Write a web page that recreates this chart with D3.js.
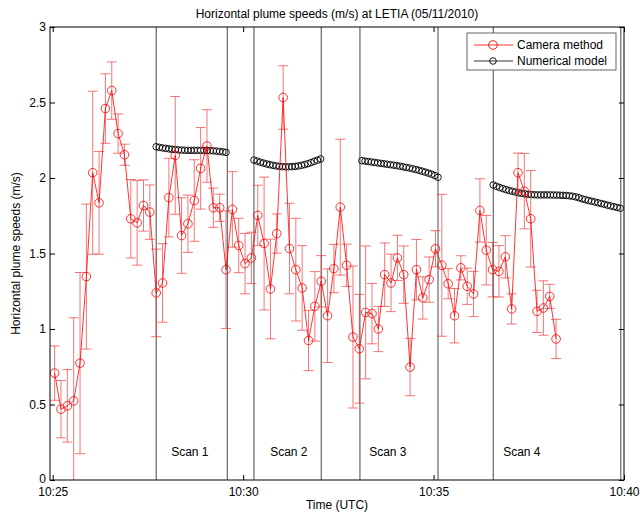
<!DOCTYPE html>
<html>
<head>
<meta charset="utf-8">
<script src="https://cdn.jsdelivr.net/npm/d3@7"></script>
<style>
  html, body { margin: 0; padding: 0; background: #fff; }
  svg { display: block; font-family: "Liberation Sans", Arial, Helvetica, sans-serif; }
</style>
</head>
<body>
<svg id="chart" width="640" height="517"></svg>
<script>
// ---- data (time in seconds after 10:25:00 UTC) ----
const cameraTimes = [3,13,23,33,43,53,63,73,83,93,103,113,123,133,143,153,163,173,183,193,
  203,213,223,233,243,253,263,273,283,293,303,313,323,333,343,353,363,373,383,393,
  403,413,423,433,443,453,463,473,483,493,503,513,523,533,543,553,563,573,583,593,
  603,613,623,633,643,653,663,673,683,693,703,713,723,733,743,753,763,773,783,793];
const cameraSpeed = [0.708,0.469,0.491,0.524,0.774,1.347,2.035,1.836,2.46,2.579,
  2.294,2.154,1.73,1.703,1.818,1.774,1.239,1.305,1.87,2.15,
  1.619,1.697,1.851,2.064,2.212,1.803,1.803,1.393,1.792,1.553,
  1.433,1.471,1.752,1.566,1.265,1.632,2.533,1.533,1.393,1.272,
  0.924,1.15,1.316,1.088,1.40,1.807,1.422,0.947,0.869,1.11,
  1.102,1.0,1.36,1.305,1.471,1.36,0.748,1.393,1.206,1.327,
  1.531,1.422,1.30,1.088,1.405,1.283,1.232,1.785,1.522,1.393,
  1.382,1.478,1.133,2.035,1.913,1.73,1.117,1.139,1.216,0.934];
const cameraError = [0.18,0.19,0.24,0.55,0.60,0.48,0.54,0.34,0.23,0.19,
  0.13,0.07,0.26,0.28,0.17,0.18,0.29,0.26,0.26,0.39,
  0.25,0.19,0.27,0.27,0.24,0.13,0.09,0.39,0.25,0.18,
  0.20,0.17,0.20,0.44,0.33,0.13,0.21,0.30,0.34,0.28,
  0.20,0.23,0.17,0.31,0.16,0.45,0.14,0.47,0.36,0.44,
  0.20,0.15,0.21,0.19,0.15,0.19,0.19,0.20,0.14,0.15,
  0.12,0.47,0.10,0.18,0.08,0.12,0.15,0.21,0.23,0.18,
  0.17,0.14,0.10,0.13,0.25,0.32,0.14,0.18,0.08,0.13];

// numerical model, one sample every 5 s within each scan
const modelStep = 5;
const scanStarts = [163, 317, 487, 694];
const modelScan1 = [2.207,2.203,2.199,2.196,2.193,2.190,2.188,2.186,2.185,2.184,2.183,2.183,
  2.183,2.183,2.183,2.182,2.182,2.181,2.180,2.178,2.176,2.173,2.170];
const modelScan2 = [2.119,2.112,2.105,2.099,2.093,2.088,2.084,2.080,2.077,2.075,2.074,
  2.074,2.075,2.077,2.080,2.084,2.089,2.095,2.102,2.110,2.118,2.126];
const modelScan3 = [2.115,2.112,2.109,2.106,2.103,2.100,2.097,2.094,2.091,2.088,2.085,2.082,
  2.078,2.074,2.070,2.066,2.061,2.056,2.051,2.045,2.039,2.032,2.025,2.016,2.005];
const modelScan4 = [1.954,1.945,1.937,1.930,1.923,1.917,1.912,1.907,1.902,1.898,1.895,1.892,
  1.890,1.889,1.888,1.888,1.888,1.888,1.888,1.887,1.887,1.886,1.885,1.884,1.882,1.879,
  1.875,1.869,1.862,1.857,1.851,1.846,1.841,1.836,1.831,1.826,1.820,1.815,1.810,1.805,1.800];

const scanBoundaries = [163, 275, 317, 423, 484, 607, 694, 895];
const scanLabels = ["Scan 1", "Scan 2", "Scan 3", "Scan 4"];
const scanLabelTimes = [216, 372, 528, 739];

const xTickTimes = [0, 300, 600, 900];
const xTickLabels = ["10:25", "10:30", "10:35", "10:40"];
const yTicks = [0, 0.5, 1, 1.5, 2, 2.5, 3];
const yTickLabels = ["0", "0.5", "1", "1.5", "2", "2.5", "3"];

const titleText = "Horizontal plume speeds (m/s) at LETIA (05/11/2010)";
const xLabel = "Time (UTC)";
const yLabel = "Horizontal plume speeds (m/s)";
const legendLabels = ["Camera method", "Numerical model"];

// ---- layout ----
const svg = d3.select("#chart");
const W = 640, H = 517;
const margin = { left: 50, right: 16, top: 27, bottom: 37 };
const x = d3.scaleLinear().domain([-4.3, 900]).range([margin.left, W - margin.right]);
const y = d3.scaleLinear().domain([0, 3]).range([H - margin.bottom, margin.top]);
const x0 = x.range()[0], x1 = x.range()[1], y0 = y.range()[0], y1 = y.range()[1];

const camera = cameraTimes.map((t, i) => ({ t, v: cameraSpeed[i], e: cameraError[i] }));
const modelScans = [modelScan1, modelScan2, modelScan3, modelScan4];
const model = [];
modelScans.forEach((arr, s) => arr.forEach((v, j) => model.push({ t: scanStarts[s] + j * modelStep, v })));

const plot = svg.append("g");
plot.append("defs").append("clipPath").attr("id", "clip")
  .append("rect").attr("x", x0).attr("y", y1).attr("width", x1 - x0).attr("height", y0 - y1);

// scan boundary lines
plot.append("g").selectAll("line").data(scanBoundaries).join("line")
  .attr("x1", d => x(d)).attr("x2", d => x(d))
  .attr("y1", y1).attr("y2", y0)
  .attr("stroke", "#333").attr("stroke-width", 0.9);

// scan labels
plot.append("g").selectAll("text").data(scanLabels).join("text")
  .attr("x", (d, i) => x(scanLabelTimes[i])).attr("y", 456)
  .attr("text-anchor", "middle").attr("font-size", 12).attr("fill", "#000")
  .text(d => d);

const clipped = plot.append("g").attr("clip-path", "url(#clip)");

// model circles
clipped.append("g").selectAll("circle").data(model).join("circle")
  .attr("cx", d => x(d.t)).attr("cy", d => y(d.v)).attr("r", 3.3)
  .attr("fill", "none").attr("stroke", "#000").attr("stroke-width", 0.9);

// error bars
const eb = clipped.append("g").attr("stroke", "#f03a3a").attr("stroke-width", 0.7);
eb.selectAll("line.v").data(camera).join("line").attr("class", "v")
  .attr("x1", d => x(d.t)).attr("x2", d => x(d.t))
  .attr("y1", d => y(d.v - d.e)).attr("y2", d => y(d.v + d.e));
eb.selectAll("line.top").data(camera).join("line").attr("class", "top")
  .attr("x1", d => x(d.t) - 5).attr("x2", d => x(d.t) + 5)
  .attr("y1", d => y(d.v + d.e)).attr("y2", d => y(d.v + d.e));
eb.selectAll("line.bot").data(camera).join("line").attr("class", "bot")
  .attr("x1", d => x(d.t) - 5).attr("x2", d => x(d.t) + 5)
  .attr("y1", d => y(d.v - d.e)).attr("y2", d => y(d.v - d.e));

// camera line + markers
clipped.append("path").datum(camera)
  .attr("d", d3.line().x(d => x(d.t)).y(d => y(d.v)))
  .attr("fill", "none").attr("stroke", "#ff0000").attr("stroke-width", 0.8);
clipped.append("g").selectAll("circle").data(camera).join("circle")
  .attr("cx", d => x(d.t)).attr("cy", d => y(d.v)).attr("r", 4.3)
  .attr("fill", "none").attr("stroke", "#ff0000").attr("stroke-width", 0.8);

// axes box
const axisG = svg.append("g");
axisG.append("rect").attr("x", x0).attr("y", y1).attr("width", x1 - x0).attr("height", y0 - y1)
  .attr("fill", "none").attr("stroke", "#000").attr("stroke-width", 1);

const tickLen = 5;
const xb = axisG.append("g").attr("transform", `translate(0,${y0})`)
  .call(d3.axisBottom(x).tickValues(xTickTimes).tickFormat((d, i) => xTickLabels[i]).tickSizeInner(-tickLen).tickSizeOuter(0).tickPadding(5));
const xt = axisG.append("g").attr("transform", `translate(0,${y1})`)
  .call(d3.axisTop(x).tickValues(xTickTimes).tickFormat("").tickSizeInner(-tickLen).tickSizeOuter(0));
const yl = axisG.append("g").attr("transform", `translate(${x0},0)`)
  .call(d3.axisLeft(y).tickValues(yTicks).tickFormat((d, i) => yTickLabels[i]).tickSizeInner(-tickLen).tickSizeOuter(0).tickPadding(4));
const yr = axisG.append("g").attr("transform", `translate(${x1},0)`)
  .call(d3.axisRight(y).tickValues(yTicks).tickFormat("").tickSizeInner(-tickLen).tickSizeOuter(0));
[xb, xt, yl, yr].forEach(g => {
  g.select(".domain").remove();
  g.selectAll("line").attr("stroke", "#000");
  g.selectAll("text").attr("font-size", 12).attr("fill", "#000").attr("font-family", "Liberation Sans, Arial, sans-serif");
});
xb.selectAll("text").attr("dy", "0.95em");
yl.selectAll("text").filter(d => d === 0).attr("dy", "0.2em");

// titles
svg.append("text").attr("x", 337).attr("y", 18).attr("text-anchor", "middle")
  .attr("font-size", 12).text(titleText);
svg.append("text").attr("x", 337).attr("y", 509).attr("text-anchor", "middle")
  .attr("font-size", 12).text(xLabel);
svg.append("text").attr("transform", `translate(20,${(y0 + y1) / 2}) rotate(-90)`)
  .attr("text-anchor", "middle").attr("font-size", 12).text(yLabel);

// legend
const lg = svg.append("g");
lg.append("rect").attr("x", 467).attr("y", 33).attr("width", 149).attr("height", 37)
  .attr("fill", "#fff").attr("stroke", "#555").attr("stroke-width", 0.9);
const legendColors = ["#ff0000", "#000"];
const legendRowY = [45, 61];
legendLabels.forEach((lab, i) => {
  const row = lg.append("g");
  row.append("line").attr("x1", 474).attr("x2", 513).attr("y1", legendRowY[i]).attr("y2", legendRowY[i])
    .attr("stroke", legendColors[i]).attr("stroke-width", 0.8);
  row.append("circle").attr("cx", 493).attr("cy", legendRowY[i]).attr("r", i === 0 ? 4.3 : 3.3)
    .attr("fill", "none").attr("stroke", legendColors[i]).attr("stroke-width", 0.9);
  row.append("text").attr("x", 517).attr("y", legendRowY[i]).attr("dy", "0.35em")
    .attr("font-size", 12).text(lab);
});
</script>
</body>
</html>
